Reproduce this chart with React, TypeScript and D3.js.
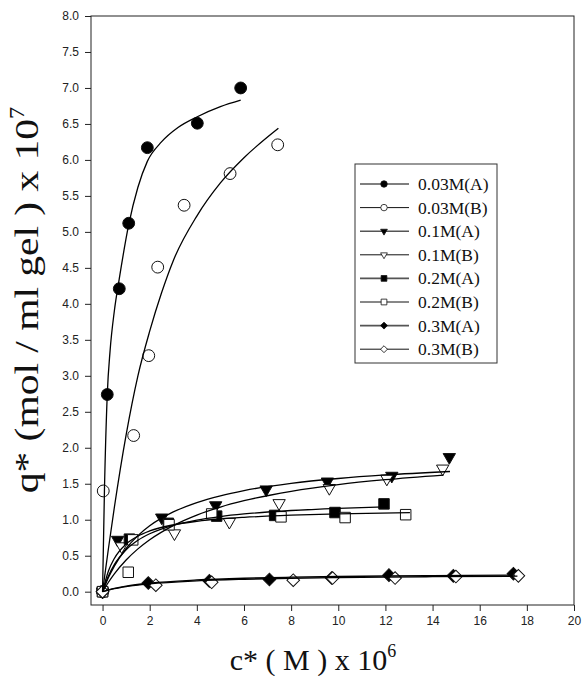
import React, { useEffect, useRef } from "react";
import * as d3 from "d3";

// ---------- data ----------
const seriesNames = ["0.03M(A)", "0.03M(B)", "0.1M(A)", "0.1M(B)", "0.2M(A)", "0.2M(B)", "0.3M(A)", "0.3M(B)"];
const seriesShapes = ["circle", "circle", "triangle", "triangle", "square", "square", "diamond", "diamond"];
const seriesFilled = [true, false, true, false, true, false, true, false];

const c003A = [0, 0.2, 0.71, 1.11, 1.9, 4.02, 5.86];
const q003A = [0, 2.74, 4.21, 5.12, 6.17, 6.51, 7.0];
const c003B = [0, 0.03, 1.32, 1.96, 2.34, 3.46, 5.41, 7.43];
const q003B = [0, 1.4, 2.17, 3.28, 4.51, 5.37, 5.81, 6.21];
const c01A = [0, 0.64, 2.51, 4.8, 6.94, 9.54, 12.27, 14.71];
const q01A = [0, 0.72, 1.03, 1.2, 1.42, 1.53, 1.61, 1.87];
const c01B = [0, 0.81, 3.05, 5.38, 7.49, 9.62, 12.06, 14.43];
const q01B = [0, 0.63, 0.81, 0.97, 1.23, 1.44, 1.57, 1.71];
const c02A = [0, 1.14, 2.79, 4.84, 7.3, 9.86, 11.94];
const q02A = [0, 0.73, 0.95, 1.05, 1.06, 1.1, 1.22];
const c02B = [0, 1.09, 1.28, 2.82, 4.63, 7.57, 10.29, 12.86];
const q02B = [0, 0.27, 0.72, 0.93, 1.08, 1.04, 1.03, 1.07];
const c03A = [0, 1.94, 4.53, 7.08, 9.72, 12.15, 14.88, 17.43];
const q03A = [0, 0.12, 0.15, 0.17, 0.19, 0.23, 0.22, 0.25];
const c03B = [0, 2.26, 4.63, 8.09, 9.76, 12.41, 14.99, 17.64];
const q03B = [0, 0.09, 0.13, 0.16, 0.19, 0.19, 0.21, 0.22];

// fitted isotherm curves
const fc003A = [0, 0.08, 0.2, 0.32, 0.5, 0.71, 1.11, 1.5, 1.9, 2.5, 3.2, 4.02, 5.0, 5.86];
const fq003A = [0, 1.4, 2.74, 3.35, 3.9, 4.35, 5.1, 5.62, 5.98, 6.25, 6.45, 6.6, 6.74, 6.83];
const fc003B = [0, 0.25, 0.5, 1.0, 1.5, 2.0, 2.5, 3.0, 4.0, 5.0, 6.0, 7.46];
const fq003B = [0, 0.6, 1.17, 2.18, 3.0, 3.62, 4.15, 4.6, 5.22, 5.68, 6.03, 6.44];
const fc01A = [0, 0.25, 0.5, 1, 1.5, 2, 3, 4, 5, 6, 8, 10, 12, 14.74];
const fq01A = [0, 0.196, 0.356, 0.6, 0.779, 0.915, 1.108, 1.239, 1.333, 1.405, 1.506, 1.573, 1.622, 1.67];
const fc01B = [0, 0.25, 0.5, 1, 1.5, 2, 3, 4, 5, 6, 8, 10, 12, 14.46];
const fq01B = [0, 0.131, 0.247, 0.44, 0.595, 0.722, 0.919, 1.065, 1.176, 1.264, 1.395, 1.488, 1.556, 1.62];
const fc02A = [0, 0.25, 0.5, 1, 1.5, 2, 3, 4, 5, 6, 8, 10, 11.98];
const fq02A = [0, 0.219, 0.375, 0.582, 0.714, 0.805, 0.922, 0.995, 1.044, 1.08, 1.128, 1.159, 1.18];
const fc02B = [0, 0.25, 0.5, 1, 1.5, 2, 3, 4, 5, 6, 8, 10, 13.04];
const fq02B = [0, 0.288, 0.462, 0.662, 0.773, 0.844, 0.929, 0.978, 1.011, 1.033, 1.063, 1.082, 1.1];
const fc03A = [0, 0.5, 1, 2, 4, 6, 8, 10, 12, 14, 17.5];
const fq03A = [0, 0.045, 0.077, 0.119, 0.163, 0.187, 0.201, 0.211, 0.218, 0.223, 0.23];
const fc03B = [0, 0.5, 1, 2, 4, 6, 8, 10, 12, 14, 17.6];
const fq03B = [0, 0.041, 0.07, 0.109, 0.151, 0.173, 0.187, 0.196, 0.203, 0.208, 0.215];

const xTicks = [0, 2, 4, 6, 8, 10, 12, 14, 16, 18, 20];
const yTicks = [0, 0.5, 1, 1.5, 2, 2.5, 3, 3.5, 4, 4.5, 5, 5.5, 6, 6.5, 7, 7.5, 8];

const pointsX = [c003A, c003B, c01A, c01B, c02A, c02B, c03A, c03B];
const pointsY = [q003A, q003B, q01A, q01B, q02A, q02B, q03A, q03B];
const fitX = [fc003A, fc003B, fc01A, fc01B, fc02A, fc02B, fc03A, fc03B];
const fitY = [fq003A, fq003B, fq01A, fq01B, fq02A, fq02B, fq03A, fq03B];

// ---------- layout ----------
const W = 582;
const H = 676;
const PL = 91, PR = 574, PT = 16, PB = 605;
const SERIF = "'Liberation Serif', 'Times New Roman', serif";
const SANS = "'Liberation Sans', Arial, sans-serif";

function symbolPath(shape: string, big: boolean): { d: string; rot: number } {
  const s = big ? 1 : 0.3;
  if (shape === "circle") return { d: d3.symbol().type(d3.symbolCircle).size(110 * s)(), rot: 0 };
  if (shape === "triangle") return { d: d3.symbol().type(d3.symbolTriangle).size(66 * s)(), rot: 180 };
  if (shape === "square") return { d: d3.symbol().type(d3.symbolSquare).size(110 * s)(), rot: 0 };
  return { d: d3.symbol().type(d3.symbolSquare).size(80 * s)(), rot: 45 };
}

export default function App() {
  const axRef = useRef<SVGGElement>(null);
  const x = d3.scaleLinear().domain([-0.49, 20]).range([PL, PR]);
  const y = d3.scaleLinear().domain([-0.185, 8]).range([PB, PT]);

  useEffect(() => {
    const g = d3.select(axRef.current);
    g.selectAll("*").remove();
    const ax = g.append("g").attr("transform", `translate(0,${PB})`)
      .call(d3.axisBottom(x).tickValues(xTicks).tickSize(6).tickSizeOuter(0).tickPadding(5).tickFormat(d3.format("d")));
    const ay = g.append("g").attr("transform", `translate(${PL},0)`)
      .call(d3.axisLeft(y).tickValues(yTicks).tickSize(6).tickSizeOuter(0).tickPadding(6).tickFormat(d3.format(".1f")));
    [ax, ay].forEach((a) => {
      a.select(".domain").remove();
      a.selectAll("line").attr("stroke", "#222");
      a.selectAll("text").attr("font-family", SANS).attr("font-size", 12).attr("fill", "#222");
    });
  }, []);

  const line = d3.line<[number, number]>().x((d) => x(d[0])).y((d) => y(d[1])).curve(d3.curveMonotoneX);

  const legendRows = seriesNames.map((n, i) => 184 + i * 23.6);

  return (
    <svg width={W} height={H} style={{ position: "absolute", left: 0, top: 0, background: "#fff" }}>
      <rect x={0} y={0} width={W} height={H} fill="#fff" />
      <rect x={PL} y={PT} width={PR - PL} height={PB - PT} fill="none" stroke="#222" strokeWidth={1} />
      <g ref={axRef} />

      {/* markers */}
      {seriesNames.map((n, i) => {
        const sp = symbolPath(seriesShapes[i], true);
        return (
          <g key={"m" + i}>
            {pointsX[i].map((cx, j) => (
              <path
                key={j}
                d={sp.d}
                transform={`translate(${x(cx)},${y(pointsY[i][j])}) rotate(${sp.rot})`}
                fill={seriesFilled[i] ? "#000" : "#fff"}
                stroke="#111"
                strokeWidth={1}
              />
            ))}
          </g>
        );
      })}

      {/* fitted curves */}
      {seriesNames.map((n, i) => (
        <path
          key={"f" + i}
          d={line(fitX[i].map((c, j) => [c, fitY[i][j]] as [number, number])) || ""}
          fill="none"
          stroke="#000"
          strokeWidth={1.3}
        />
      ))}

      {/* legend */}
      <rect x={355} y={164} width={142} height={199} fill="#fff" stroke="#333" strokeWidth={1} />
      {seriesNames.map((n, i) => {
        const sp = symbolPath(seriesShapes[i], false);
        const ly = legendRows[i];
        return (
          <g key={"l" + i}>
            <line x1={360} x2={409} y1={ly} y2={ly} stroke={seriesFilled[i] ? "#555" : "#111"} strokeWidth={seriesFilled[i] ? 1.6 : 1} />
            <path d={sp.d} transform={`translate(384,${ly}) rotate(${sp.rot})`} fill={seriesFilled[i] ? "#000" : "#fff"} stroke="#111" strokeWidth={0.8} />
            <text x={418} y={ly + 6} fontFamily={SERIF} fontSize={17.5} fill="#111">{n}</text>
          </g>
        );
      })}

      {/* axis titles */}
      <text x={313} y={670} textAnchor="middle" fontFamily={SERIF} fontSize={30} fill="#111">
        c* ( M ) x 10<tspan dy={-13} fontSize={18}>6</tspan>
      </text>
      <text
        transform="translate(38,300) rotate(-90) scale(1.22,1)"
        textAnchor="middle"
        fontFamily={SERIF}
        fontSize={34}
        fill="#111"
      >
        q* (mol / ml gel ) x 10<tspan dy={-14} fontSize={20}>7</tspan>
      </text>
    </svg>
  );
}
